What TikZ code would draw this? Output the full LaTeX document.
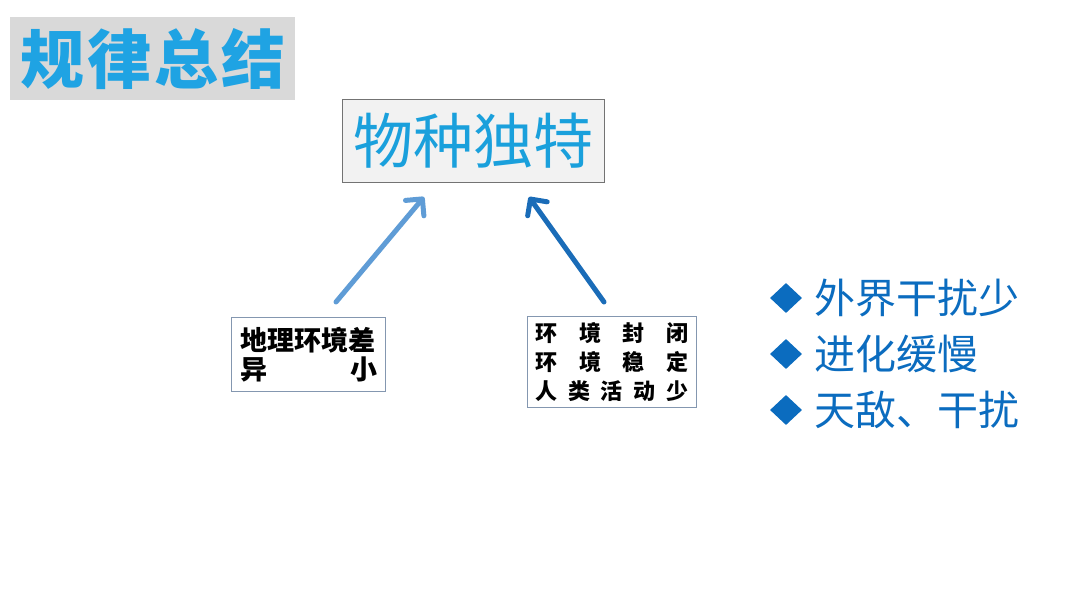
\documentclass[tikz,border=0pt]{standalone}
\usepackage{fontspec}
\newfontfamily\cjk{Noto Sans CJK SC}
\usetikzlibrary{arrows.meta,shapes.geometric}
\definecolor{titleblue}{HTML}{1FA3E3}
\definecolor{headblue}{HTML}{1AA0DC}
\definecolor{bulletblue}{HTML}{0B6CBF}
\definecolor{arrowlight}{HTML}{5F9CD6}
\definecolor{arrowdark}{HTML}{1A6CB8}
\definecolor{boxedge}{HTML}{8497B0}
\tikzset{
  x=1pt,y=-1pt,
  arr/.style={line width=5pt,line cap=round,-{Straight Barb[round,length=12pt,width=24pt,line width=5pt]}},
  smallbox/.style={draw=boxedge,line width=1pt,fill=white,inner sep=0pt},
  bul/.style={shape=diamond,fill=bulletblue,minimum width=32pt,minimum height=30pt,inner sep=0pt},
  bultext/.style={anchor=west,inner sep=0pt,text=bulletblue,font=\cjk\fontsize{41}{41}\selectfont},
}
\begin{document}
\begin{tikzpicture}
\useasboundingbox (0,0) rectangle (1080,608);
\fill[white] (0,0) rectangle (1080,608);
% title
\node[fill=black!15,minimum width=285pt,minimum height=83pt,inner sep=0pt,anchor=north west,
      text=titleblue,font=\cjk\bfseries\fontsize{64}{64}\selectfont] (title) at (10,17) {规\hspace{3pt}律\hspace{3pt}总\hspace{3pt}结};
% head box
\node[draw=black!55,line width=1pt,fill=black!5,minimum width=262pt,minimum height=83pt,inner sep=0pt,
      anchor=north west,text=headblue,font=\cjk\fontsize{60}{60}\selectfont] (head) at (342,99) {物种独特};
% left box
\node[smallbox,minimum width=154pt,minimum height=74pt,anchor=north west] (lbox) at (231,317) {};
\node[inner sep=0pt,font=\cjk\bfseries\fontsize{27}{31}\selectfont,align=left] (ltext) at (lbox.center)
  {\hbox to 137pt{地理环境差}\\[-2pt]\hbox to 137pt{异\hfill 小}};
% right box
\node[smallbox,minimum width=169pt,minimum height=91pt,anchor=north west] (rbox) at (527,316) {};
\node[inner sep=0pt,font=\cjk\bfseries\fontsize{22}{29}\selectfont,align=left] (rtext) at (rbox.center)
  {\hbox to 153pt{环\hfill 境\hfill 封\hfill 闭}\\\hbox to 153pt{环\hfill 境\hfill 稳\hfill 定}\\\hbox to 153pt{人\hfill 类\hfill 活\hfill 动\hfill 少}};
% arrows
\coordinate (la) at (336,302);
\coordinate (lh) at (424,197);
\coordinate (ra) at (604,302);
\coordinate (rh) at (529,197);
\draw[arr,draw=arrowlight] (la) -- (lh);
\draw[arr,draw=arrowdark] (ra) -- (rh);
% bullets
\node[bul] (d1) at (786,298) {};
\node[bul] (d2) at (786,354) {};
\node[bul] (d3) at (786,410) {};
\node[bultext] (t1) at (814,298) {外界干扰少};
\node[bultext] (t2) at (814,354) {进化缓慢};
\node[bultext] (t3) at (814,410) {天敌、干扰};
\end{tikzpicture}
\end{document}
